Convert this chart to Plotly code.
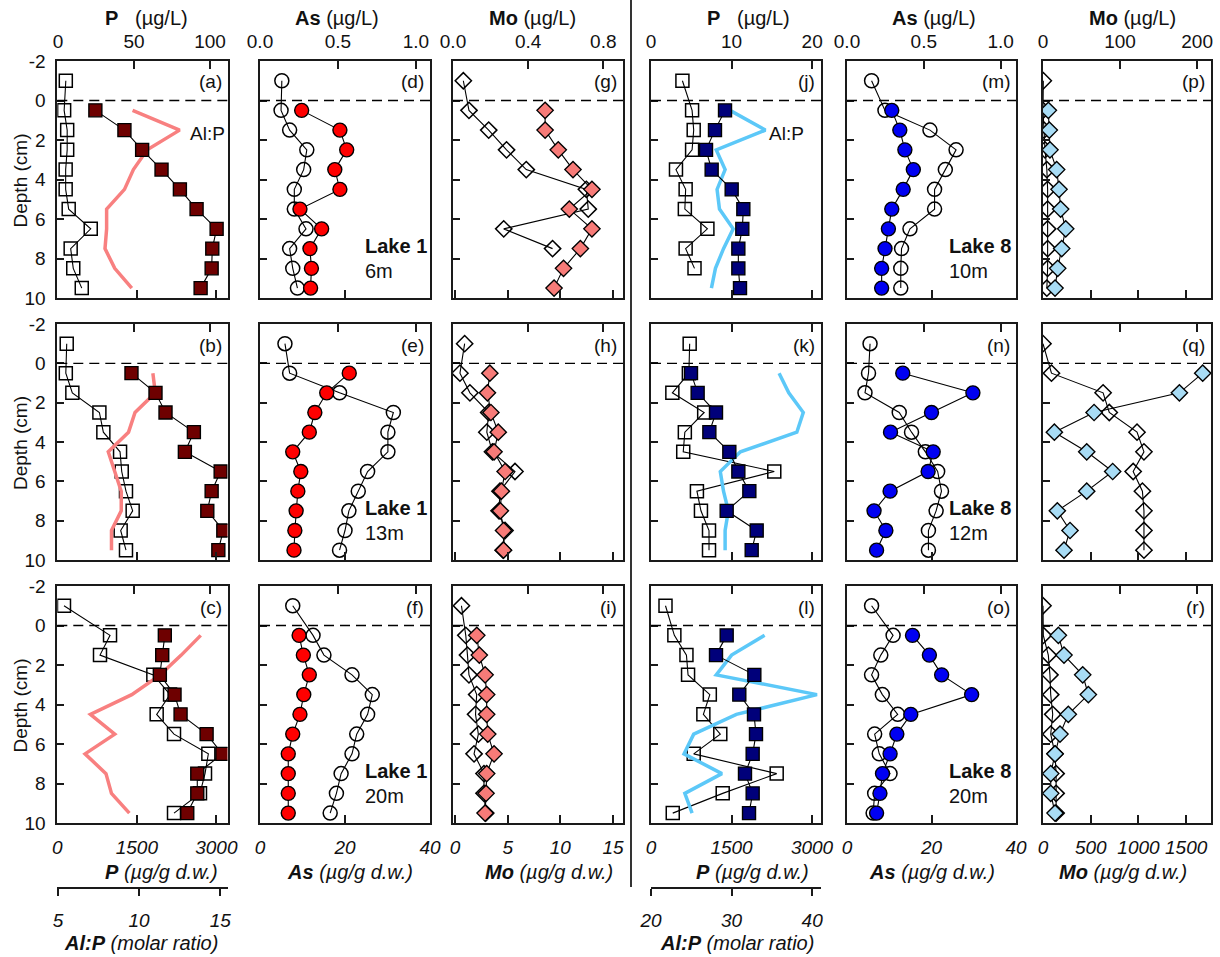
import plotly.graph_objects as go

# ---------------- data ----------------
D_PW = [-1, 0.5, 1.5, 2.5, 3.5, 4.5, 5.5, 6.5, 7.5, 8.5, 9.5]
D_SED = [0.5, 1.5, 2.5, 3.5, 4.5, 5.5, 6.5, 7.5, 8.5, 9.5]
DEPTH_TICKS = [-2, 0, 2, 4, 6, 8, 10]
DEPTH_TICKTEXT = ["-2", "0", "2", "4", "6", "8", "10"]

# Lake 1, 6 m
p_pw_a = [5.1, 4, 6, 6, 5, 5, 7, 21.5, 8.3, 10, 15.6]
p_sed_a = [718, 1266, 1600, 1966, 2312, 2627, 3005, 2923, 2911, 2703]
alp_a = [9.6, 12.5, 10.5, 9.65, 9.1, 8.0, 8.0, 7.9, 8.5, 9.55]
as_pw_d = [0.14, 0.135, 0.19, 0.30, 0.28, 0.22, 0.22, 0.295, 0.19, 0.21, 0.24]
as_sed_d = [9.8, 18.8, 20.4, 17.6, 18.8, 9.4, 14.5, 11.75, 12.1, 11.9]
mo_pw_g = [0.055, 0.085, 0.19, 0.285, 0.39, 0.71, 0.72, 0.27, 0.53]
mo_sed_g = [8.55, 8.55, 9.8, 11.2, 13.0, 10.85, 13.0, 11.9, 10.3, 9.4]
# Lake 1, 13 m
p_pw_b = [5.7, 5.1, 9.4, 27.2, 29.8, 40.8, 41.9, 44.7, 49.1, 41.2, 44.7]
p_sed_b = [1399, 1852, 2041, 2576, 2406, 3081, 2911, 2829, 3131, 3037]
alp_b = [10.85, 11.0, 9.75, 9.35, 8.1, 8.5, 8.9, 8.9, 8.3, 8.3]
as_pw_e = [0.16, 0.19, 0.51, 0.855, 0.82, 0.82, 0.69, 0.63, 0.57, 0.545, 0.51]
as_sed_e = [21.0, 15.7, 12.9, 11.6, 7.7, 9.6, 8.9, 8.5, 8.2, 8.0]
mo_pw_h = [0.062, 0.037, 0.09, 0.19, 0.18, 0.21, 0.33, 0.25, 0.245, 0.277, 0.267]
mo_sed_h = [3.3, 3.07, 3.4, 4.1, 3.7, 4.75, 4.4, 4.3, 4.6, 4.6]
# Lake 1, 20 m
p_pw_c = [3.9, 34.2, 27.6, 62.7, 73.7, 64.9, 76.3, 98.9, 96.7, 93.4, 76.3]
p_sed_c = [2028, 1979, 1934, 2211, 2325, 2816, 3113, 2640, 2640, 2451]
alp_c = [13.8, 12.6, 11.3, 9.55, 7.0, 8.5, 6.67, 7.96, 8.3, 9.4]
as_pw_f = [0.21, 0.34, 0.41, 0.59, 0.72, 0.69, 0.62, 0.59, 0.52, 0.49, 0.45]
as_sed_f = [9.2, 10.2, 11.6, 10.3, 9.4, 7.7, 6.65, 6.65, 6.65, 6.65]
mo_pw_i = [0.045, 0.068, 0.077, 0.085, 0.126, 0.12, 0.135, 0.112, 0.165, 0.165, 0.174]
mo_sed_i = [2.06, 2.3, 2.85, 3.0, 3.0, 3.1, 3.7, 3.0, 2.94, 2.85]
# Lake 8, 10 m
p_pw_j = [3.9, 5.1, 5.3, 5.1, 3.1, 4.3, 4.2, 7.0, 4.3, 5.4]
p_sed_j = [1379, 1192, 1025, 1130, 1503, 1720, 1701, 1627, 1627, 1658]
alp_j = [29.8, 34.2, 28.1, 29.2, 28.2, 28.5, 30.2, 29.0, 28.0, 27.5]
as_pw_m = [0.16, 0.247, 0.54, 0.71, 0.64, 0.57, 0.57, 0.41, 0.355, 0.35, 0.35]
as_sed_m = [10.6, 12.5, 13.7, 15.7, 13.3, 10.6, 9.8, 9.0, 8.2, 8.2]
mo_pw_p = [0.4, 0, 1.3, 2.6, 5, 6, 6, 6, 6, 6, 5]
mo_sed_p = [56, 66, 73, 143, 168, 185, 238, 196, 154, 126]
# Lake 8, 12 m
p_pw_k = [4.8, 4.7, 2.65, 6.6, 4.2, 4.0, 15.3, 5.7, 6.2, 7.2, 7.2]
p_sed_k = [745, 869, 1211, 1087, 1459, 1627, 1832, 1410, 1969, 1876]
alp_k = [35.9, 37.1, 38.9, 38.1, 31.1, 28.6, 29.0, 29.6, 29.2, 29.2]
as_pw_n = [0.15, 0.14, 0.117, 0.34, 0.42, 0.51, 0.59, 0.615, 0.58, 0.53, 0.53]
as_sed_n = [13.2, 29.8, 20.0, 10.3, 20.4, 19.2, 10.2, 6.4, 9.2, 7.0]
mo_pw_q = [0, 11, 78, 86, 122, 131, 117, 129, 131, 131, 131]
mo_sed_q = [1673, 1429, 535, 119, 458, 730, 458, 150, 283, 220]
# Lake 8, 20 m
p_pw_l = [1.8, 2.9, 4.4, 4.6, 7.3, 6.5, 8.6, 5.3, 15.6, 8.9, 2.7]
p_sed_l = [1410, 1211, 1925, 1645, 1919, 1956, 1894, 1751, 1894, 1826]
alp_l = [34.1, 30.0, 28.1, 40.6, 30.6, 25.3, 24.1, 28.8, 24.2, 25.1]
as_pw_o = [0.16, 0.30, 0.22, 0.16, 0.23, 0.33, 0.18, 0.21, 0.28, 0.18, 0.17]
as_sed_o = [15.5, 19.5, 22.4, 29.5, 15.1, 11.8, 10.2, 8.4, 7.8, 7.0]
mo_pw_r = [0, 0.4, 6.9, 9, 10, 12.6, 10, 15.6, 17, 17, 17]
mo_sed_r = [161, 220, 416, 475, 265, 178, 126, 81, 81, 126]

PW = [[p_pw_a, as_pw_d, mo_pw_g, p_pw_j, as_pw_m, mo_pw_p],
      [p_pw_b, as_pw_e, mo_pw_h, p_pw_k, as_pw_n, mo_pw_q],
      [p_pw_c, as_pw_f, mo_pw_i, p_pw_l, as_pw_o, mo_pw_r]]
SED = [[p_sed_a, as_sed_d, mo_sed_g, p_sed_j, as_sed_m, mo_sed_p],
       [p_sed_b, as_sed_e, mo_sed_h, p_sed_k, as_sed_n, mo_sed_q],
       [p_sed_c, as_sed_f, mo_sed_i, p_sed_l, as_sed_o, mo_sed_r]]
ALP = {(0, 0): alp_a, (1, 0): alp_b, (2, 0): alp_c,
       (0, 3): alp_j, (1, 3): alp_k, (2, 3): alp_l}
PANEL_LABELS = [["(a)", "(d)", "(g)", "(j)", "(m)", "(p)"],
                ["(b)", "(e)", "(h)", "(k)", "(n)", "(q)"],
                ["(c)", "(f)", "(i)", "(l)", "(o)", "(r)"]]
LAKE_TEXT = {(0, 1): ("Lake 1", "6m"), (1, 1): ("Lake 1", "13m"), (2, 1): ("Lake 1", "20m"),
             (0, 4): ("Lake 8", "10m"), (1, 4): ("Lake 8", "12m"), (2, 4): ("Lake 8", "20m")}

TOP_TITLES = ["P", "As", "Mo", "P", "As", "Mo"]
TOP_TICKS = [[0, 50, 100], [0, 0.5, 1.0], [0, 0.4, 0.8], [0, 10, 20], [0, 0.5, 1.0], [0, 100, 200]]
TOP_TICKTEXT = [["0", "50", "100"], ["0.0", "0.5", "1.0"], ["0.0", "0.4", "0.8"],
                ["0", "10", "20"], ["0.0", "0.5", "1.0"], ["0", "100", "200"]]
BOT_TICKS = [[0, 1500, 3000], [0, 20, 40], [0, 5, 10, 15], [0, 1500, 3000], [0, 20, 40], [0, 500, 1000, 1500]]
ALP_TICKS = {0: [5, 10, 15], 3: [20, 30, 40]}

# ---------------- styling ----------------
W, H = 1220, 957
FONT = "Liberation Sans, Arial, Helvetica, sans-serif"
LC = "#1a1a1a"
COLS_PX = [(57.3, 227.5), (260, 430), (453, 623), (651, 821), (847, 1016), (1043, 1211)]
ROWS_PX = [(61, 298), (324, 560), (586, 823)]
TOP_RANGE = [[-0.5, 111.5], [0, 1.09], [0, 0.905], [0, 21.1], [0, 1.1], [0, 218]]
BOT_RANGE = [[0, 3210], [0, 40], [-0.2, 15.95], [0, 3167], [0, 40], [0, 1760]]
ALP_RANGE = {0: [4.96, 15.45], 3: [20, 41.1]}
SYMB_OPEN = ["square-open", "circle-open", "diamond-open", "square-open", "circle-open", "diamond-open"]
SYMB_FILL = ["square", "circle", "diamond", "square", "circle", "diamond"]
MSIZE = [13, 14, 12.5, 13, 14, 12.5]
FILL_COL = ["#6e0000", "#ff0000", "#f77b78", "#00007a", "#0000f2", "#a8dcf5"]
ALP_COL = {0: "#f88080", 3: "#5cc8f8"}


def fx(px):
    return px / W


def fy(py):
    return 1 - py / H


fig = go.Figure()
layout = {}
shapes = []
annotations = []
xcount = 0
ycount = 0


def ax_name(kind, n):
    return f"{kind}axis" if n == 1 else f"{kind}axis{n}"


def ref(kind, n):
    return kind if n == 1 else f"{kind}{n}"


for r in range(3):
    for c in range(6):
        ycount += 1
        yid = ycount
        xcount += 1
        xt = xcount
        xa = None
        if c in (0, 3):
            xcount += 1
            xa = xcount
        xcount += 1
        xb = xcount
        xl, xr = COLS_PX[c]
        yt, yb = ROWS_PX[r]
        xdom = [fx(xl), fx(xr)]

        layout[ax_name("y", yid)] = dict(
            domain=[fy(yb), fy(yt)], anchor=ref("x", xt), range=[10, -2], automargin=False,
            tickvals=DEPTH_TICKS, ticktext=DEPTH_TICKTEXT, ticks="inside", ticklen=7, tickwidth=1.5,
            tickcolor=LC, showline=True, mirror=True, linecolor=LC, linewidth=1.6,
            showgrid=False, zeroline=False, showticklabels=(c == 0),
            tickfont=dict(size=19, family=FONT, color="#111"), ticklabelstandoff=6,
        )
        layout[ax_name("x", xt)] = dict(
            domain=xdom, anchor=ref("y", yid), side="top", range=TOP_RANGE[c], automargin=False,
            tickvals=TOP_TICKS[c], ticktext=TOP_TICKTEXT[c], ticks="inside", ticklen=8,
            tickwidth=1.5, tickcolor=LC, showline=True, linecolor=LC, linewidth=1.6,
            showgrid=False, zeroline=False, showticklabels=(r == 0),
            tickfont=dict(size=19, family=FONT, color="#111"), ticklabelstandoff=4,
        )
        if xa is not None:
            if r < 2:
                layout[ax_name("x", xa)] = dict(
                    domain=xdom, overlaying=ref("x", xt), anchor=ref("y", yid),
                    range=ALP_RANGE[c], visible=False, automargin=False,
                )
            else:
                layout[ax_name("x", xa)] = dict(
                    domain=xdom, overlaying=ref("x", xt), anchor="free", position=fy(888),
                    side="bottom", range=ALP_RANGE[c], tickvals=ALP_TICKS[c], automargin=False,
                    ticks="outside", ticklen=7, tickwidth=1.5, tickcolor=LC,
                    showline=True, linecolor=LC, linewidth=1.6, showgrid=False,
                    zeroline=False, ticklabelstandoff=8,
                    tickfont=dict(size=19, family=FONT, color="#111", style="italic"),
                )
        layout[ax_name("x", xb)] = dict(
            domain=xdom, overlaying=ref("x", xt), anchor=ref("y", yid), side="bottom",
            range=BOT_RANGE[c], tickvals=BOT_TICKS[c], ticks="inside", ticklen=8, automargin=False,
            tickwidth=1.5, tickcolor=LC, showline=True, linecolor=LC, linewidth=1.6,
            showgrid=False, zeroline=False, showticklabels=(r == 2),
            tickfont=dict(size=19, family=FONT, color="#111", style="italic"),
            ticklabelstandoff=6,
        )

        # pore water (open)
        pw = PW[r][c]
        fig.add_trace(go.Scatter(
            x=pw, y=D_PW[:len(pw)], xaxis=ref("x", xt), yaxis=ref("y", yid),
            mode="lines+markers", line=dict(color="#000", width=1.1),
            marker=dict(symbol=SYMB_OPEN[c], size=MSIZE[c], color="#000",
                        line=dict(width=1.5, color="#000")),
            showlegend=False, hoverinfo="skip"))
        # Al:P
        if xa is not None:
            fig.add_trace(go.Scatter(
                x=ALP[(r, c)], y=D_SED, xaxis=ref("x", xa), yaxis=ref("y", yid),
                mode="lines", line=dict(color=ALP_COL[c], width=3.5),
                showlegend=False, hoverinfo="skip"))
        # sediment (filled)
        sd = SED[r][c]
        fig.add_trace(go.Scatter(
            x=sd, y=D_SED[:len(sd)], xaxis=ref("x", xb), yaxis=ref("y", yid),
            mode="lines+markers", line=dict(color="#000", width=1.1),
            marker=dict(symbol=SYMB_FILL[c], size=MSIZE[c], color=FILL_COL[c],
                        line=dict(width=1.4, color="#000")),
            showlegend=False, hoverinfo="skip"))

        # dashed sediment-water interface
        shapes.append(dict(type="line", xref=f"{ref('x', xt)} domain", yref=ref("y", yid),
                           x0=0, x1=1, y0=0, y1=0,
                           line=dict(color="#000", width=1.4, dash="10px,6px")))
        # panel label
        annotations.append(dict(text=PANEL_LABELS[r][c], xref="paper", yref="paper",
                                x=fx(xr - 4), y=fy(yt + 21), xanchor="right", yanchor="middle",
                                showarrow=False, font=dict(size=19, family=FONT, color="#111")))
        if (r, c) in LAKE_TEXT:
            lk, dep = LAKE_TEXT[(r, c)]
            lx = xl + (103 if c == 1 else 100)
            annotations.append(dict(text=f"<b>{lk}</b>", xref="paper", yref="paper",
                                    x=fx(lx), y=fy(yb - 52), xanchor="left", yanchor="middle",
                                    showarrow=False, font=dict(size=20, family=FONT, color="#111")))
            annotations.append(dict(text=dep, xref="paper", yref="paper",
                                    x=fx(lx), y=fy(yb - 27), xanchor="left", yanchor="middle",
                                    showarrow=False, font=dict(size=20, family=FONT, color="#111")))
    # row y-axis title
    yt, yb = ROWS_PX[r]
    annotations.append(dict(text="Depth (cm)", xref="paper", yref="paper", x=fx(20),
                            y=fy((yt + yb) / 2 + 1), xanchor="center", yanchor="middle",
                            textangle=-90, showarrow=False,
                            font=dict(size=19, family=FONT, color="#111")))

# column titles
TOP_TITLE_X = [146, 337, 532, 748, 934, 1132]
BOT_TITLE_X = [162, 350, 549, 752, 932, 1123]
NB = "\u00a0"
for c in range(6):
    sp = NB * 3 if TOP_TITLES[c] == "P" else NB
    annotations.append(dict(text=f"<b>{TOP_TITLES[c]}</b>{sp}(µg/L)", xref="paper", yref="paper",
                            x=fx(TOP_TITLE_X[c]), y=fy(18), xanchor="center", yanchor="middle",
                            showarrow=False, font=dict(size=20, family=FONT, color="#111")))
    annotations.append(dict(text=f"<b><i>{TOP_TITLES[c]}</i></b>{NB}<i>(µg/g d.w.)</i>",
                            xref="paper", yref="paper",
                            x=fx(BOT_TITLE_X[c]), y=fy(872), xanchor="center", yanchor="middle",
                            showarrow=False, font=dict(size=20, family=FONT, color="#111")))
for xc in (141, 737):
    annotations.append(dict(text=f"<b><i>Al:P</i></b>{NB}<i>(molar ratio)</i>", xref="paper", yref="paper",
                            x=fx(xc), y=fy(943), xanchor="center", yanchor="middle",
                            showarrow=False, font=dict(size=20, family=FONT, color="#111")))
# Al:P labels in panels (a) and (j)
for xpx in (188, 767):
    annotations.append(dict(text="Al:P", xref="paper", yref="paper", x=fx(xpx), y=fy(133),
                            xanchor="left", yanchor="middle", showarrow=False,
                            font=dict(size=19, family=FONT, color="#111")))

# divider between lakes
shapes.append(dict(type="line", xref="paper", yref="paper", x0=fx(631), x1=fx(631),
                   y0=fy(0), y1=fy(887), line=dict(color="#000", width=1.6)))

layout.update(dict(
    width=W, height=H, margin=dict(l=0, r=0, t=0, b=0, autoexpand=False),
    paper_bgcolor="white", plot_bgcolor="white",
    font=dict(family=FONT, size=19, color="#111"),
    shapes=shapes, annotations=annotations, showlegend=False,
))
fig.update_layout(**layout)
fig.write_html("out.html")
